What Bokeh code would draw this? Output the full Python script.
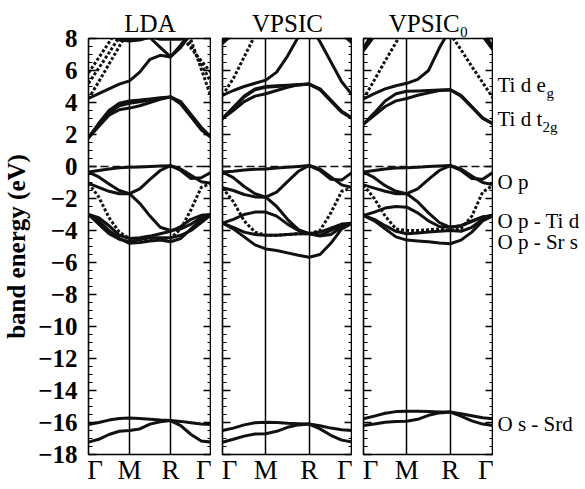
from bokeh.plotting import figure
from bokeh.layouts import row
from bokeh.models import FixedTicker, Span, LinearAxis, Range1d
from bokeh.core.properties import value
from bokeh.embed import file_html
from bokeh.resources import INLINE

nan = float("nan")
FONT = "Liberation Serif"
INK = "#111111"

# k-path sample positions (Γ=0, M=1, R=2, Γ=3)
K = [0, 0.25, 0.5, 0.75, 1, 1.25, 1.5, 1.75, 2, 2.25, 2.5, 2.75, 3]
K_TICKS = [0, 1, 2, 3]
K_LABELS = ["Γ", "M", "R", "Γ"]
Y_TICKS = [-18, -16, -14, -12, -10, -8, -6, -4, -2, 0, 2, 4, 6, 8]
E_FERMI = 0
TITLES = ["LDA", "VPSIC", "VPSIC₀"]

# ---------------- LDA bands (eV) ----------------
LDA_solid = [
    [1.8, 2.5, 3.2, 3.55, 3.65, 3.8, 4.0, 4.2, 4.35, 3.9, 3.1, 2.3, 1.8],
    [1.8, 2.6, 3.35, 3.8, 3.95, 4.05, 4.15, 4.25, 4.35, 4.0, 3.2, 2.4, 1.8],
    [1.8, 2.7, 3.5, 3.95, 4.1, 4.15, 4.22, 4.3, 4.35, 4.05, 3.25, 2.45, 1.8],
    [4.25, 4.55, 4.85, 5.15, 5.35, 5.9, 6.7, 6.95, 6.85, 7.45, 8.3, nan, nan],
    [nan, nan, 8.4, 8.0, 7.9, 7.95, 8.05, 7.45, 6.85, 7.6, 8.4, nan, nan],
    [nan, nan, 8.3, 7.9, 7.85, 7.9, 8.1, nan, nan, nan, nan, nan, nan],
    [nan, nan, nan, nan, nan, nan, 8.1, 7.95, 7.95, 7.95, 8.1, nan, nan],
    [-0.35, -0.25, -0.15, -0.08, -0.05, -0.03, 0.0, 0.03, 0.05, -0.15, -0.55, -0.95, -1.05],
    [-0.35, -0.65, -1.1, -1.5, -1.7, -1.4, -0.8, -0.25, 0.05, -0.25, -0.75, -0.7, -0.35],
    [-1.05, -1.3, -1.55, -1.7, -1.7, -2.3, -3.1, -3.8, -4.0, -3.9, -3.6, -3.2, -3.0],
    [-3.0, -3.2, -3.7, -4.3, -4.5, -4.45, -4.35, -4.2, -4.05, -3.75, -3.3, -3.05, -3.0],
    [-3.0, -3.4, -4.0, -4.5, -4.8, -4.75, -4.65, -4.6, -4.7, -4.5, -3.9, -3.3, -3.0],
    [-3.0, -3.6, -4.2, -4.55, -4.7, -4.55, -4.45, -4.45, -4.45, -4.3, -4.0, -3.5, -3.0],
    [-16.13, -16.0, -15.85, -15.75, -15.72, -15.75, -15.8, -15.85, -15.88, -15.93, -16.02, -16.1, -16.13],
    [-17.23, -17.05, -16.75, -16.55, -16.5, -16.4, -16.1, -15.95, -15.88, -16.2, -16.75, -17.15, -17.23],
]
LDA_dotted = [
    [5.85, 6.8, 7.75, 8.7, nan, nan, nan, nan, nan, 8.2, 7.4, 6.6, 5.85],
    [5.2, 6.15, 7.1, 8.1, nan, nan, nan, nan, nan, 8.6, 7.6, 6.4, 5.2],
    [4.25, 5.3, 6.4, 7.5, 8.6, nan, nan, nan, nan, 9.7, 7.9, 6.1, 4.25],
    [-1.05, -1.9, -3.2, -4.1, -4.5, -4.6, -4.6, -4.55, -4.5, -3.9, -2.7, -1.3, -1.05],
]

# ---------------- VPSIC bands (eV) ----------------
VPSIC_solid = [
    [3.0, 3.5, 4.05, 4.4, 4.55, 4.75, 4.95, 5.1, 5.15, 4.8, 4.1, 3.4, 3.0],
    [3.0, 3.65, 4.35, 4.8, 4.95, 5.0, 5.05, 5.1, 5.15, 4.85, 4.15, 3.45, 3.0],
    [3.0, 3.7, 4.4, 4.85, 5.0, 5.05, 5.08, 5.12, 5.15, 4.82, 4.12, 3.42, 3.0],
    [4.45, 4.75, 5.0, 5.2, 5.4, 5.9, 6.9, 8.1, nan, nan, nan, nan, nan],
    [nan, nan, nan, nan, nan, nan, nan, nan, 8.9, 7.8, 6.55, 5.3, 4.45],
    [7.7, 8.3, nan, nan, nan, nan, nan, nan, nan, nan, nan, 8.3, 7.7],
    [7.85, 8.6, nan, nan, nan, nan, nan, nan, nan, nan, nan, 8.6, 7.85],
    [-0.35, -0.3, -0.22, -0.17, -0.15, -0.1, -0.05, 0.0, 0.06, -0.15, -0.65, -1.15, -1.33],
    [-0.35, -0.7, -1.25, -1.7, -1.92, -1.6, -0.95, -0.3, 0.06, -0.25, -0.8, -0.85, -0.35],
    [-1.33, -1.5, -1.75, -1.9, -1.92, -2.5, -3.3, -3.95, -4.2, -4.3, -4.0, -3.7, -3.54],
    [-3.54, -3.3, -3.0, -2.85, -2.85, -3.1, -3.6, -4.0, -4.2, -4.1, -3.85, -3.6, -3.54],
    [-3.54, -3.9, -4.4, -4.9, -5.15, -5.25, -5.4, -5.55, -5.67, -5.5, -4.8, -3.9, -3.54],
    [-3.54, -3.8, -4.1, -4.25, -4.3, -4.3, -4.25, -4.2, -4.2, -4.35, -4.25, -3.8, -3.54],
    [-16.5, -16.35, -16.15, -16.02, -15.98, -16.0, -16.05, -16.08, -16.1, -16.2, -16.35, -16.45, -16.5],
    [-17.23, -17.05, -16.85, -16.72, -16.7, -16.55, -16.3, -16.15, -16.1, -16.4, -16.8, -17.1, -17.23],
]
VPSIC_dotted = [
    [4.45, 5.5, 6.85, 8.2, nan, nan, nan, nan, nan, nan, nan, nan, nan],
    [-1.33, -2.2, -3.4, -4.1, -4.3, -4.3, -4.25, -4.2, -4.2, -4.0, -2.9, -1.55, -1.33],
]

# ---------------- VPSIC0 bands (eV) ----------------
VPSIC0_solid = [
    [2.65, 3.2, 3.75, 4.1, 4.25, 4.45, 4.6, 4.75, 4.8, 4.4, 3.7, 3.0, 2.65],
    [2.65, 3.35, 4.1, 4.55, 4.7, 4.72, 4.75, 4.78, 4.8, 4.45, 3.75, 3.05, 2.65],
    [4.23, 4.55, 4.85, 5.05, 5.2, 5.45, 6.0, 7.4, 8.6, nan, nan, nan, nan],
    [7.25, 8.15, nan, nan, nan, nan, nan, nan, nan, nan, nan, 8.15, 7.25],
    [7.4, 8.5, nan, nan, nan, nan, nan, nan, nan, nan, nan, 8.5, 7.4],
    [-0.35, -0.25, -0.15, -0.1, -0.08, -0.05, 0.0, 0.03, 0.06, -0.15, -0.6, -1.0, -1.15],
    [-0.35, -0.7, -1.2, -1.55, -1.7, -1.4, -0.8, -0.25, 0.06, -0.25, -0.75, -0.8, -0.35],
    [-1.15, -1.35, -1.55, -1.7, -1.7, -2.2, -2.9, -3.5, -3.8, -3.7, -3.45, -3.15, -3.06],
    [-3.06, -2.85, -2.6, -2.5, -2.54, -2.9, -3.4, -3.75, -3.8, -3.7, -3.4, -3.15, -3.06],
    [-3.06, -3.4, -3.9, -4.4, -4.6, -4.65, -4.7, -4.78, -4.83, -4.6, -4.1, -3.4, -3.06],
    [-3.06, -3.3, -3.7, -4.05, -4.2, -4.15, -4.1, -4.05, -4.0, -4.05, -3.8, -3.3, -3.06],
    [-15.77, -15.6, -15.42, -15.32, -15.29, -15.3, -15.32, -15.34, -15.35, -15.45, -15.58, -15.7, -15.77],
    [-16.19, -16.1, -15.98, -15.93, -15.92, -15.8, -15.55, -15.4, -15.35, -15.6, -15.9, -16.1, -16.19],
]
VPSIC0_dotted = [
    [4.23, 5.4, 6.6, 7.75, 8.9, nan, nan, nan, nan, nan, nan, nan, nan],
    [nan, nan, nan, nan, nan, nan, nan, nan, 8.3, 7.3, 6.25, 5.25, 4.23],
    [-1.15, -2.0, -3.1, -3.9, -4.0, -4.0, -3.95, -3.9, -4.0, -3.9, -3.1, -1.6, -1.15],
]

# right-hand character labels
RIGHT_TEXT = ["Ti d e", "Ti d t", "O p", "O p - Ti d", "O p - Sr s", "O s - Srd"]
RIGHT_Y = [5.1, 3.0, -0.95, -3.4, -4.7, -16.1]
SUB_TEXT = ["g", "2g"]
SUB_Y = [5.1, 3.0]

TOP, BOTTOM = 38, 35
FRAME_W = 130
minor = [Y_TICKS[0] + 0.5 * i for i in range(int((Y_TICKS[-1] - Y_TICKS[0]) / 0.5) + 1)]
# end Γ labels are pulled inside the panel by a few pixels (layout only)
inset = 7.0 * (K_TICKS[-1] - K_TICKS[0]) / FRAME_W
label_pos = [K_TICKS[0] + inset, K_TICKS[1], K_TICKS[2], K_TICKS[3] - inset]


def style_yaxis(ax, labels):
    ax.ticker = FixedTicker(ticks=Y_TICKS, minor_ticks=minor)
    ax.axis_line_color = None
    ax.major_tick_in = 8
    ax.major_tick_out = 0
    ax.minor_tick_in = 4
    ax.minor_tick_out = 0
    ax.major_tick_line_width = 1.3
    ax.minor_tick_line_width = 1.1
    ax.major_tick_line_color = "black"
    ax.minor_tick_line_color = "black"
    if labels:
        ax.major_label_text_font = FONT
        ax.major_label_text_font_size = "25px"
        ax.major_label_text_font_style = "bold"
        ax.major_label_text_color = "black"
        ax.major_label_standoff = 11
    else:
        ax.major_label_overrides = {t: "" for t in Y_TICKS}
        ax.major_label_text_color = None
        ax.major_label_standoff = 0


def make_panel(idx, solid, dotted):
    first = idx == 0
    p = figure(width=211 if first else 141, height=489,
               x_range=Range1d(K[0], K[-1]), y_range=Range1d(Y_TICKS[0], Y_TICKS[-1]),
               output_backend="svg", toolbar_location=None,
               min_border_left=81 if first else 11, min_border_right=0,
               min_border_top=TOP, min_border_bottom=BOTTOM,
               title=TITLES[idx])
    p.title.text_font = FONT
    p.title.text_font_size = "25px"
    p.title.text_font_style = "normal"
    p.title.text_color = "black"
    p.title.align = "center"
    p.title.standoff = 4
    p.outline_line_color = "black"
    p.outline_line_width = 1.6
    p.background_fill_color = "white"
    p.border_fill_color = "white"

    style_yaxis(p.yaxis[0], first)
    if first:
        p.yaxis.axis_label = "band energy (eV)"
        p.yaxis.axis_label_text_font = FONT
        p.yaxis.axis_label_text_font_size = "25px"
        p.yaxis.axis_label_text_font_style = "bold"
        p.yaxis.axis_label_text_color = "black"
        p.yaxis.axis_label_standoff = 5
    rax = LinearAxis()
    style_yaxis(rax, False)
    p.add_layout(rax, "right")

    p.xaxis.ticker = FixedTicker(ticks=label_pos)
    p.xaxis.major_label_overrides = {label_pos[i]: K_LABELS[i] for i in range(4)}
    p.xaxis.major_label_text_font = FONT
    p.xaxis.major_label_text_font_size = "27px"
    p.xaxis.major_label_text_color = "black"
    p.xaxis.major_label_standoff = 0
    p.xaxis.major_tick_in = 0
    p.xaxis.major_tick_out = 0
    p.xaxis.minor_tick_in = 0
    p.xaxis.minor_tick_out = 0
    p.xaxis.axis_line_color = None

    p.xgrid.ticker = FixedTicker(ticks=K_TICKS[1:3])
    p.xgrid.grid_line_color = "black"
    p.xgrid.grid_line_width = 1.5
    p.ygrid.visible = False

    p.add_layout(Span(location=E_FERMI, dimension="width", line_color=INK,
                      line_width=1.5, line_dash="8 4"))

    for b in solid:
        p.line(K, b, line_color=INK, line_width=3, line_join="round", line_cap="round")
    for b in dotted:
        p.line(K, b, line_color=INK, line_width=3, line_dash="3 2")
    return p


p1 = make_panel(0, LDA_solid, LDA_dotted)
p2 = make_panel(1, VPSIC_solid, VPSIC_dotted)
p3 = make_panel(2, VPSIC0_solid, VPSIC0_dotted)

p4 = figure(width=92, height=489, x_range=Range1d(0, 1),
            y_range=Range1d(Y_TICKS[0], Y_TICKS[-1]),
            output_backend="svg", toolbar_location=None,
            x_axis_type=None, y_axis_type=None,
            min_border_left=0, min_border_right=0,
            min_border_top=TOP, min_border_bottom=BOTTOM)
p4.outline_line_color = None
p4.grid.visible = False
p4.background_fill_color = "white"
p4.border_fill_color = "white"
p4.text(x=[0] * len(RIGHT_TEXT), y=RIGHT_Y, text=RIGHT_TEXT, x_offset=4,
        text_font=value(FONT), text_font_size="21px", text_baseline="middle",
        text_color="black")
p4.text(x=[0] * len(SUB_TEXT), y=SUB_Y, text=SUB_TEXT, x_offset=[53, 49], y_offset=8,
        text_font=value(FONT), text_font_size="15px", text_baseline="middle",
        text_color="black")

layout = row(p1, p2, p3, p4)
open("out.html", "w").write(file_html(layout, INLINE))
